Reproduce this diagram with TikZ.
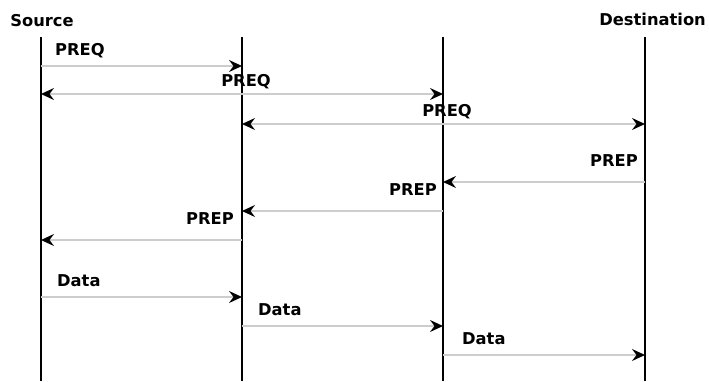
\documentclass[tikz,border=0pt]{standalone}
\usepackage{fontspec}
\setmainfont{DejaVu Sans}
\usetikzlibrary{arrows.meta, positioning}
\definecolor{msggray}{RGB}{205,205,205}

\begin{document}
\begin{tikzpicture}[x=1pt, y=-1pt,
    lifeline/.style={line width=2.6pt, black},
    msg/.style={line width=1.3pt, msggray,
                -{Stealth[black, length=13pt, width=12pt, inset=4.5pt]}},
    lbl/.style={font=\fontsize{16.3}{18}\selectfont\bfseries, inner sep=0pt}]
  \useasboundingbox (0,0) rectangle (709,381);

  % lifelines
  \coordinate (src) at (41,37);   \coordinate (srcend) at (41,381);
  \coordinate (hopa) at (242,37); \coordinate (hopaend) at (242,381);
  \coordinate (hopb) at (443,37); \coordinate (hopbend) at (443,381);
  \coordinate (dst) at (645,37);  \coordinate (dstend) at (645,381);
  \draw[lifeline] (src) -- (srcend);
  \draw[lifeline] (hopa) -- (hopaend);
  \draw[lifeline] (hopb) -- (hopbend);
  \draw[lifeline] (dst) -- (dstend);

  \node[lbl] (srctitle) at (42,21) {Source};
  \node[lbl, anchor=east] (dsttitle) at (706,19) {Destination};

  % message rows
  \coordinate (r1) at (0,66);
  \coordinate (r2) at (0,94);
  \coordinate (r3) at (0,124);
  \coordinate (r4) at (0,182);
  \coordinate (r5) at (0,211);
  \coordinate (r6) at (0,240);
  \coordinate (r7) at (0,297);
  \coordinate (r8) at (0,326);
  \coordinate (r9) at (0,355);

  % route request
  \draw[msg] (src |- r1) -- (hopa |- r1);
  \draw[msg] (hopa |- r2) -- (src |- r2);
  \draw[msg] (hopa |- r2) -- (hopb |- r2);
  \draw[msg] (hopb |- r3) -- (hopa |- r3);
  \draw[msg] (hopb |- r3) -- (dst |- r3);
  \node[lbl, anchor=west] (preq1) at (55,51) {PREQ};
  \node[lbl] (preq2) at (246,82) {PREQ};
  \node[lbl] (preq3) at (447,112) {PREQ};

  % route reply
  \draw[msg] (dst |- r4) -- (hopb |- r4);
  \draw[msg] (hopb |- r5) -- (hopa |- r5);
  \draw[msg] (hopa |- r6) -- (src |- r6);
  \node[lbl, anchor=east] (prep1) at (638,161) {PREP};
  \node[lbl, anchor=east] (prep2) at (437,190) {PREP};
  \node[lbl, anchor=east] (prep3) at (234,219) {PREP};

  % data
  \draw[msg] (src |- r7) -- (hopa |- r7);
  \draw[msg] (hopa |- r8) -- (hopb |- r8);
  \draw[msg] (hopb |- r9) -- (dst |- r9);
  \node[lbl, anchor=west] (data1) at (57,281) {Data};
  \node[lbl, anchor=west] (data2) at (258,310) {Data};
  \node[lbl, anchor=west] (data3) at (462,339) {Data};
\end{tikzpicture}
\end{document}
